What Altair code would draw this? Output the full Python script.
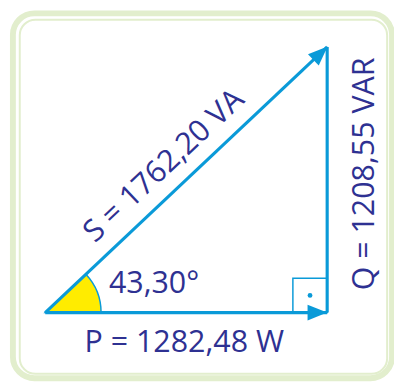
import math
import altair as alt
import pandas as pd

# ---- values ----
P = 1282.48          # active power, W
Q = 1208.55          # reactive power, VAR
S = 1762.20          # apparent power, VA
PHI = 43.30          # phase angle, degrees

label_names = ["P", "Q", "S", "phi"]
label_texts = ["P = 1282,48 W", "Q = 1208,55 VAR", "S = 1762,20 VA", "43,30°"]

# ---- styles ----
BLUE = "#0a9ad8"
NAVY = "#2e3192"
YELLOW = "#ffec00"
GREEN = "#e2eecd"
FONT = "Open Sans"
FS = 31

W, H = 394, 379
K = 0.2244                 # pixels per unit (same on both axes)
OX, OY = 38, 307           # origin position inside the plot, px
xs = alt.Scale(domain=[-OX / K, (W - OX) / K], nice=False, zero=False)
ys = alt.Scale(domain=[-(H - OY) / K, OY / K], nice=False, zero=False)
X = lambda f="x": alt.X(f"{f}:Q", scale=xs, axis=None)
Y = lambda f="y": alt.Y(f"{f}:Q", scale=ys, axis=None)

one = alt.Data(values=[{}])

# frame (decoration)
frame_outer = alt.Chart(one).mark_rect(
    fillOpacity=0, stroke=GREEN, strokeWidth=6, cornerRadius=22
).encode(x=alt.value(5), x2=alt.value(392), y=alt.value(1.5), y2=alt.value(374))
frame_inner = alt.Chart(one).mark_rect(
    fillOpacity=0, stroke=GREEN, strokeWidth=2, cornerRadius=16
).encode(x=alt.value(12), x2=alt.value(387), y=alt.value(8), y2=alt.value(369.5))

# angle wedge
wedge = alt.Chart(pd.DataFrame({"x": [0.0], "y": [0.0]})).mark_arc(
    radius=57, radius2=0,
    theta=math.radians(90 - PHI), theta2=math.pi / 2,
    fill=YELLOW, stroke=BLUE, strokeWidth=1.5,
).encode(x=X(), y=Y())

# triangle sides
seg = pd.DataFrame({
    "x": [0.0, 0.0, P], "y": [0.0, 0.0, 0.0],
    "x2": [P, P, P], "y2": [Q, 0.0, Q],
})
sides = alt.Chart(seg).mark_rule(color=BLUE, strokeWidth=3.2).encode(
    x=X(), y=Y(), x2="x2:Q", y2="y2:Q"
)

# arrow heads
heads = alt.Chart(pd.DataFrame({
    "x": [P + 2, P], "y": [Q + 2, 0.0], "angle": [90 - PHI, 90.0]
})).mark_point(
    shape="M0,0L-0.8,2L0.8,2Z", filled=True, size=400, color=BLUE, opacity=1
).encode(x=X(), y=Y(), angle=alt.Angle("angle:Q", scale=None))

# right-angle marker
SQ = 35 / K
square = alt.Chart(pd.DataFrame({"x": [P - SQ], "x2": [P], "y": [0.0], "y2": [SQ]})).mark_rect(
    fillOpacity=0, stroke=BLUE, strokeWidth=1.5
).encode(x=X(), x2="x2:Q", y=Y(), y2="y2:Q")
dot = alt.Chart(pd.DataFrame({"x": [P - SQ / 2], "y": [SQ / 2]})).mark_point(
    filled=True, size=24, color=BLUE, opacity=1
).encode(x=X(), y=Y())

# labels
rad = math.radians(PHI)
along = 0.483
off = 25.5 / K
s_x = along * P - math.sin(rad) * off
s_y = along * Q + math.cos(rad) * off

txt = dict(font=FONT, fontSize=FS, color=NAVY)
lab_P = alt.Chart(pd.DataFrame({"x": [P / 2], "y": [0.0], "t": [label_texts[0]]})).mark_text(
    align="center", baseline="alphabetic", dy=40, dx=-2, **txt
).encode(x=X(), y=Y(), text="t:N")
lab_phi = alt.Chart(pd.DataFrame({"x": [0.0], "y": [0.0], "t": [label_texts[3]]})).mark_text(
    align="left", baseline="alphabetic", dx=65, dy=-20, **txt
).encode(x=X(), y=Y(), text="t:N")
lab_S = alt.Chart(pd.DataFrame({"x": [s_x], "y": [s_y], "t": [label_texts[2]]})).mark_text(
    align="center", baseline="middle", angle=360 - PHI, **txt
).encode(x=X(), y=Y(), text="t:N")
lab_Q = alt.Chart(pd.DataFrame({"x": [P + 39 / K], "y": [Q / 2 + 6 / K], "t": [label_texts[1]]})).mark_text(
    align="center", baseline="middle", angle=270, **txt
).encode(x=X(), y=Y(), text="t:N")

chart = alt.layer(
    frame_outer, frame_inner, wedge, sides, heads, square, dot,
    lab_P, lab_phi, lab_S, lab_Q,
).properties(
    width=W, height=H, padding=0, background="white",
    autosize=alt.AutoSizeParams(type="none"),
).configure_view(stroke=None)

chart.save("out.html", embed_options={"renderer": "svg", "actions": False})
